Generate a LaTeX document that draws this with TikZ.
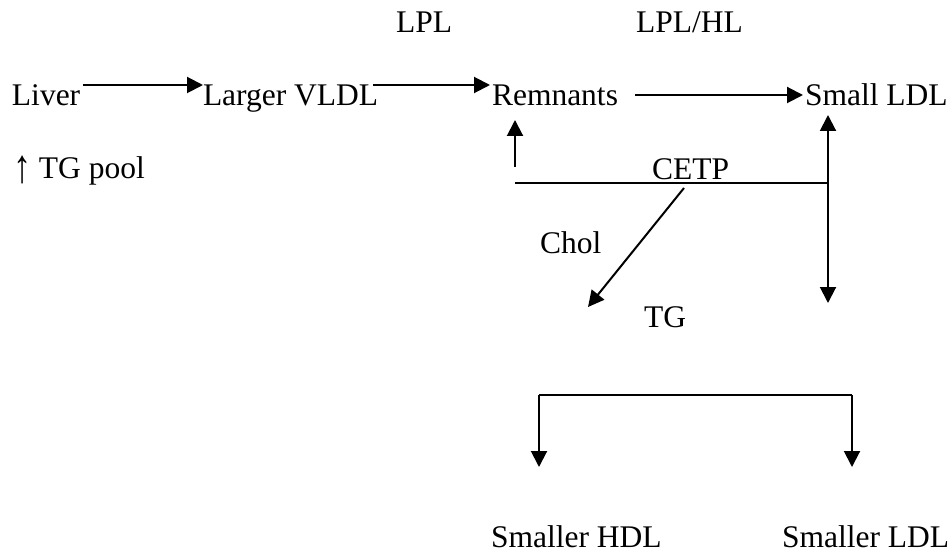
\documentclass[tikz,border=0pt]{standalone}
\usepackage{fontspec}
\setmainfont{Liberation Serif}
\usetikzlibrary{arrows.meta}
\begin{document}
\begin{tikzpicture}[x=1pt,y=-1pt,
  lbl/.style={inner sep=0pt,outer sep=0pt,anchor=base west,font=\fontsize{31.5}{36}\selectfont},
  ln/.style={line width=2pt},
  arr/.style={ln,-{Triangle[width=16pt,length=16pt]}},
  darr/.style={ln,{Triangle[width=16pt,length=16pt]}-{Triangle[width=16pt,length=16pt]}}]
\useasboundingbox (0,0) rectangle (952,553);
% labels
\node[lbl] (lpl) at (396,33) {LPL};
\node[lbl] (lplhl) at (636,33) {LPL/HL};
\node[lbl] (liver) at (12,106) {Liver};
\node[lbl] (vldl) at (203,106) {Larger VLDL};
\node[lbl] (rem) at (492,106) {Remnants};
\node[lbl] (sldl) at (805,106) {Small LDL};
\node[lbl] (pool) at (13,179) {\raisebox{-4pt}{\scalebox{1.15}[1.5]{↑}} TG pool};
\node[lbl] (cetp) at (652,180) {CETP};
\node[lbl] (chol) at (540,253) {Chol};
\node[lbl] (tg) at (644,327) {TG};
\node[lbl] (shdl) at (491,547) {Smaller HDL};
\node[lbl] (sldl2) at (782,547) {Smaller LDL};
% helper coordinates
\coordinate (r1) at (0,85);
\coordinate (r2) at (0,95);
\coordinate (up0) at (515,167);
\coordinate (up1) at (515,120);
\coordinate (hl) at (515,183);
\coordinate (hr) at (828,183);
\coordinate (vt) at (828,115);
\coordinate (vb) at (828,303);
\coordinate (d0) at (684,188);
\coordinate (d1) at (588,307);
\coordinate (bl) at (539,395);
\coordinate (br) at (852,395);
\coordinate (bl1) at (539,467);
\coordinate (br1) at (852,467);
% connectors
\draw[arr] ([xshift=3pt]liver.east |- r1) -- (vldl.west |- r1);
\draw[arr] ([xshift=-5pt]vldl.east |- r1) -- ([xshift=-2pt]rem.west |- r1);
\draw[arr] ([xshift=17pt]rem.east |- r2) -- ([xshift=-2pt]sldl.west |- r2);
\draw[arr] (up0) -- (up1);
\draw[ln] (hl) -- (hr);
\draw[darr] (vt) -- (vb);
\draw[arr] (d0) -- (d1);
\draw[arr] (bl1 |- bl) -- (bl1);
\draw[ln] (bl) -- (br);
\draw[arr] (br) -- (br1);
\end{tikzpicture}
\end{document}
